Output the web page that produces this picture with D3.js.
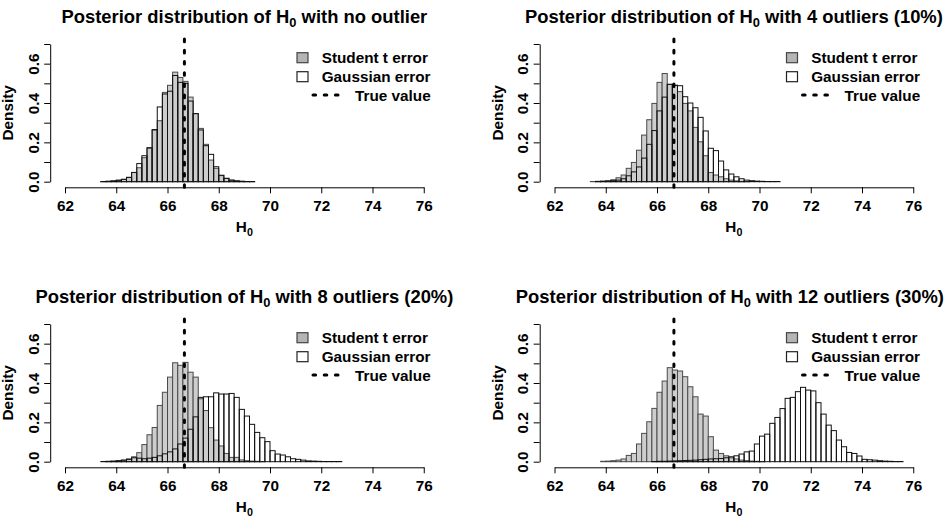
<!DOCTYPE html>
<html><head><meta charset="utf-8">
<script src="https://cdn.jsdelivr.net/npm/d3@7"></script>
<style>
body{margin:0;background:#fff}
svg{display:block}
text{font-family:"Liberation Sans",Arial,Helvetica,sans-serif;font-weight:bold;fill:#000}
</style>
</head><body>
<svg id="chart" width="946" height="518"></svg>
<script>
// ---------- data ----------
const binWidth = 0.2;
const trueValue = 66.66;
const xTicks = [62, 64, 66, 68, 70, 72, 74, 76];
const yTicks = [0, 0.1, 0.2, 0.3, 0.4, 0.5, 0.6, 0.7];
const yTickLabels = ["0.0", "", "0.2", "", "0.4", "", "0.6", ""];
const titlePrefix = "Posterior distribution of H";
const titleSuffixes = [" with no outlier", " with 4 outliers (10%)", " with 8 outliers (20%)", " with 12 outliers (30%)"];
const legendLabels = ["Student t error", "Gaussian error", "True value"];
const yLabel = "Density";

// first bin start of each histogram
const studentStart = [63.4, 63.4, 63.6, 63.8];
const gaussStart = [63.4, 63.6, 63.4, 65.8];

// densities (bin width 0.2)
const student1 = [0.001, 0.002, 0.004, 0.008, 0.012, 0.022, 0.047, 0.071, 0.122, 0.17, 0.262, 0.31, 0.454, 0.49, 0.557, 0.53, 0.51, 0.43, 0.346, 0.271, 0.19, 0.11, 0.068, 0.031, 0.017, 0.008, 0.004, 0.002, 0.001, 0.001];
const gauss1 = [0.001, 0.002, 0.004, 0.007, 0.012, 0.022, 0.047, 0.092, 0.132, 0.173, 0.265, 0.38, 0.446, 0.46, 0.54, 0.505, 0.50, 0.41, 0.346, 0.263, 0.183, 0.139, 0.076, 0.033, 0.017, 0.008, 0.004, 0.002, 0.001, 0.001];

const student2 = [0.001, 0.002, 0.003, 0.005, 0.01, 0.02, 0.034, 0.068, 0.098, 0.16, 0.237, 0.315, 0.398, 0.505, 0.55, 0.495, 0.49, 0.458, 0.398, 0.36, 0.276, 0.203, 0.132, 0.047, 0.034, 0.025, 0.015, 0.008, 0.004, 0.002, 0.001];
const gauss2 = [0.001, 0.002, 0.003, 0.005, 0.008, 0.015, 0.03, 0.05, 0.075, 0.12, 0.19, 0.26, 0.36, 0.43, 0.495, 0.49, 0.488, 0.432, 0.40, 0.376, 0.327, 0.258, 0.17, 0.158, 0.105, 0.06, 0.039, 0.025, 0.015, 0.008, 0.005, 0.003, 0.002, 0.001, 0.001, 0.001];

const student3 = [0.001, 0.002, 0.004, 0.008, 0.014, 0.025, 0.046, 0.087, 0.137, 0.174, 0.286, 0.353, 0.43, 0.503, 0.49, 0.505, 0.455, 0.43, 0.32, 0.26, 0.173, 0.11, 0.08, 0.042, 0.022, 0.022, 0.009, 0.005, 0.003, 0.002, 0.001];
const gauss3 = [0.001, 0.002, 0.003, 0.005, 0.008, 0.012, 0.02, 0.018, 0.015, 0.018, 0.022, 0.03, 0.04, 0.05, 0.065, 0.09, 0.12, 0.165, 0.228, 0.327, 0.33, 0.33, 0.35, 0.344, 0.344, 0.347, 0.327, 0.266, 0.232, 0.19, 0.149, 0.122, 0.102, 0.056, 0.039, 0.034, 0.025, 0.015, 0.012, 0.008, 0.004, 0.003, 0.002, 0.001, 0.001, 0.001, 0.001];

const student4 = [0.002, 0.003, 0.005, 0.008, 0.014, 0.032, 0.042, 0.09, 0.144, 0.203, 0.271, 0.353, 0.41, 0.478, 0.466, 0.461, 0.432, 0.381, 0.33, 0.242, 0.232, 0.127, 0.059, 0.042, 0.03, 0.02, 0.014, 0.008, 0.005, 0.003, 0.002, 0.001];
const gauss4 = [0.001, 0.002, 0.002, 0.003, 0.004, 0.005, 0.006, 0.007, 0.008, 0.01, 0.012, 0.014, 0.015, 0.016, 0.02, 0.025, 0.03, 0.039, 0.05, 0.054, 0.09, 0.13, 0.14, 0.195, 0.225, 0.27, 0.322, 0.327, 0.356, 0.378, 0.364, 0.36, 0.3, 0.242, 0.186, 0.158, 0.11, 0.076, 0.047, 0.042, 0.029, 0.012, 0.01, 0.008, 0.005, 0.003, 0.002, 0.001, 0.001];

const studentSeries = [student1, student2, student3, student4];
const gaussSeries = [gauss1, gauss2, gauss3, gauss4];

// ---------- layout ----------
const W = 946, H = 518;
const FS = 15.3, TFS = 18.4;
const panelOffsets = [[0, 0], [489.5, 0], [0, 280], [489.5, 280]];
const greyFill = "#cdcdcd", greyStroke = "#4a4a4a", legendGrey = "#b4b4b4";

const svg = d3.select("#chart");
svg.append("rect").attr("width", W).attr("height", H).attr("fill", "#fff");

panelOffsets.forEach(([ox, oy], p) => {
  const g = svg.append("g");
  const x = d3.scaleLinear().domain([62, 76]).range([65 + ox, 423.75 + ox]);
  const y = d3.scaleLinear().domain([0, 0.7]).range([181.7 + oy, 44 + oy]);
  const plotLeft = 50.2 + ox, plotBottom = 187.3 + oy, plotTop = 38.5 + oy;
  const bw = x(binWidth) - x(0);

  // student t (grey) histogram
  const sStart = studentStart[p];
  g.append("g").selectAll("rect").data(studentSeries[p]).join("rect")
    .attr("x", (d, i) => x(sStart + i * binWidth))
    .attr("width", bw)
    .attr("y", d => y(d))
    .attr("height", d => y(0) - y(d))
    .attr("fill", greyFill)
    .attr("stroke", greyStroke)
    .attr("stroke-width", 1);

  // gaussian (white) histogram, outline on top
  const gStart = gaussStart[p];
  g.append("g").selectAll("rect").data(gaussSeries[p]).join("rect")
    .attr("x", (d, i) => x(gStart + i * binWidth))
    .attr("width", bw)
    .attr("y", d => y(d))
    .attr("height", d => y(0) - y(d))
    .attr("fill", "none")
    .attr("stroke", "#111")
    .attr("stroke-width", 1);

  // true value line
  g.append("line")
    .attr("x1", x(trueValue)).attr("x2", x(trueValue))
    .attr("y1", plotBottom).attr("y2", plotTop)
    .attr("stroke", "#000").attr("stroke-width", 3)
    .attr("stroke-linecap", "round")
    .attr("stroke-dasharray", "2.6 8.6");

  // x axis
  const xa = g.append("g").attr("transform", `translate(0,${plotBottom})`)
    .call(d3.axisBottom(x).tickValues(xTicks).tickSize(6).tickSizeOuter(0).tickFormat(d3.format("d")));
  xa.selectAll("path,line").attr("stroke", "#000").attr("stroke-width", 1);
  xa.selectAll("text").attr("y", 23.7).attr("dy", null)
    .attr("font-size", FS).attr("font-family", null).attr("fill", "#000");

  // y axis
  const ya = g.append("g").attr("transform", `translate(${plotLeft},0)`)
    .call(d3.axisLeft(y).tickValues(yTicks).tickSize(6).tickSizeOuter(0).tickFormat((d, i) => yTickLabels[i]));
  ya.selectAll("path,line").attr("stroke", "#000").attr("stroke-width", 1);
  ya.selectAll("text").attr("transform", "rotate(-90)")
    .attr("x", 0).attr("y", -11.7).attr("dy", null)
    .attr("text-anchor", "middle")
    .attr("font-size", FS).attr("font-family", null).attr("fill", "#000");

  // y label
  g.append("text")
    .attr("transform", `translate(${13 + ox},${(y(0) + y(0.7)) / 2}) rotate(-90)`)
    .attr("text-anchor", "middle").attr("font-size", FS).text(yLabel);

  // x label H0
  const cx = (x(62) + x(76)) / 2;
  const xl = g.append("text").attr("x", cx).attr("y", 232 + oy)
    .attr("text-anchor", "middle").attr("font-size", FS);
  xl.append("tspan").text("H");
  xl.append("tspan").attr("font-size", FS * 0.7).attr("dy", 3.5).text("0");

  // title (kept inside the page on the right edge)
  const tt = g.append("text").attr("x", cx).attr("y", 22.5 + oy)
    .attr("text-anchor", "middle").attr("font-size", TFS);
  tt.append("tspan").text(titlePrefix);
  tt.append("tspan").attr("font-size", TFS * 0.7).attr("dy", 4.5).text("0");
  tt.append("tspan").attr("dy", -4.5).text(titleSuffixes[p]);
  const bb = tt.node().getBBox();
  if (bb.x + bb.width > W - 2) {
    tt.attr("text-anchor", "end").attr("x", W - 2);
  }

  // legend
  const lx = 297 + ox, ly = oy;
  g.append("rect").attr("x", lx).attr("y", 52.7 + ly).attr("width", 11).attr("height", 10)
    .attr("fill", legendGrey).attr("stroke", "#444").attr("stroke-width", 1.2);
  g.append("rect").attr("x", lx).attr("y", 71.7 + ly).attr("width", 11).attr("height", 10)
    .attr("fill", "#fff").attr("stroke", "#222").attr("stroke-width", 1.2);
  g.append("line").attr("x1", lx + 16).attr("x2", lx + 45)
    .attr("y1", 95 + ly).attr("y2", 95 + ly)
    .attr("stroke", "#000").attr("stroke-width", 3)
    .attr("stroke-linecap", "round").attr("stroke-dasharray", "2.6 8.6");
  g.append("text").attr("x", 321.7 + ox).attr("y", 63.2 + ly).attr("font-size", FS).text(legendLabels[0]);
  g.append("text").attr("x", 321.7 + ox).attr("y", 82.2 + ly).attr("font-size", FS).text(legendLabels[1]);
  g.append("text").attr("x", 355 + ox).attr("y", 100.5 + ly).attr("font-size", FS).text(legendLabels[2]);
});
</script>
</body></html>
